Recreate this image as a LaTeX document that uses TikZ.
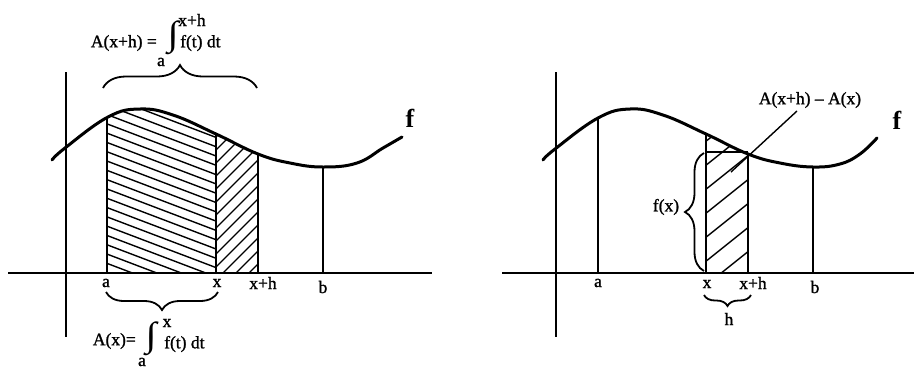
\documentclass[tikz,border=0pt]{standalone}
\usepackage{fontspec}
\usepackage{graphicx}
\setmainfont{Liberation Serif}
\newfontfamily\lblfont[FakeBold=1.2]{Liberation Serif}
\usetikzlibrary{decorations.pathreplacing}
\begin{document}
\begin{tikzpicture}[x=1pt,y=-1pt,
  curve/.style={line width=3pt, line cap=round},
  axisline/.style={line width=2.1pt},
  vline/.style={line width=2.6pt},
  hatch/.style={line width=1.4pt},
  bracestyle/.style={decorate, decoration={brace, amplitude=#1}, line width=1.8pt},
  lbl/.style={font=\lblfont\fontsize{17.5}{20}\selectfont, inner sep=0pt},
  intsign/.style={inner sep=0pt},
  bigf/.style={font=\fontsize{26}{30}\selectfont\bfseries, inner sep=0pt}]
\useasboundingbox (0,0) rectangle (914,368);

% ================= LEFT PANEL =================
\begin{scope}
  \clip (106,273) rectangle (216,90);
  \clip (52,280) -- plot[smooth,tension=0.7] coordinates {(52,160) (65,148) (108,117) (140,109) (173,115) (216,134) (258,154) (290,163) (323,167) (357,163) (383,148) (402,137)} -- (402,280) -- cycle;
  \foreach \i in {0,...,20} \draw[hatch] (100,84+9.3*\i) -- ++(125,47.5);
\end{scope}
\begin{scope}
  \clip (216,273) rectangle (258,90);
  \clip (52,280) -- plot[smooth,tension=0.7] coordinates {(52,160) (65,148) (108,117) (140,109) (173,115) (216,134) (258,154) (290,163) (323,167) (357,163) (383,148) (402,137)} -- (402,280) -- cycle;
  \foreach \i in {0,...,15} \draw[hatch] (210,130+13*\i) -- ++(55,-55);
\end{scope}

\coordinate (LyT) at (66,72);  \coordinate (LyB) at (66,337);
\coordinate (LxL) at (8,273);  \coordinate (LxR) at (432,273);
\draw[axisline] (LyT) -- (LyB);
\draw[axisline] (LxL) -- (LxR);

\coordinate (LaT) at (107,117); \coordinate (LaB) at (107,273);
\coordinate (LxT) at (216,134); \coordinate (LxB) at (216,273);
\coordinate (LhT) at (258,154); \coordinate (LhB) at (258,273);
\coordinate (LbT) at (323,167); \coordinate (LbB) at (323,273);
\draw[vline] (LaT) -- (LaB);
\draw[vline] (LxT) -- (LxB);
\draw[vline] (LhT) -- (LhB);
\draw[vline] (LbT) -- (LbB);

\draw[curve] plot[smooth,tension=0.7] coordinates {(52,160) (65,148) (108,117) (140,109) (173,115) (216,134) (258,154) (290,163) (323,167) (357,163) (383,148) (402,137)};

\node[bigf] (Lf) at (410,118) {f};

\node[lbl] (La) at (106,283) {a};
\node[lbl] (Lx) at (217,283) {x};
\node[lbl] (Lxh) at (263,283) {x+h};
\node[lbl] (Lb) at (323,287) {b};

% bottom brace and label
\coordinate (LbrR) at (218,292); \coordinate (LbrL) at (106,292);
\draw[bracestyle=18] (LbrR) -- (LbrL);
\node[lbl, anchor=east] (LAx) at (136,341) {A(x)=};
\node[intsign] (Lint1) at (151,339) {\resizebox*{11pt}{34pt}{\bfseries ∫}};
\node[lbl] (Lup1) at (167,323) {x};
\node[lbl] (Llo1) at (142,362) {a};
\node[lbl, anchor=west] (Lft1) at (164,344) {f(t) dt};

% top brace and label
\coordinate (LtbL) at (103,88); \coordinate (LtbR) at (257,88);
\draw[bracestyle=23] (LtbL) -- (LtbR);
\node[lbl, anchor=east] (LAxh) at (157,43) {A(x+h) =};
\node[intsign] (Lint2) at (173,38) {\resizebox*{11pt}{34pt}{\bfseries ∫}};
\node[lbl] (Lup2) at (192,20) {x+h};
\node[lbl] (Llo2) at (161,62) {a};
\node[lbl, anchor=west] (Lft2) at (180,43) {f(t) dt};

% ================= RIGHT PANEL =================
\begin{scope}
  \clip (706,273) rectangle (748,90);
  \clip (543,280) -- plot[smooth,tension=0.7] coordinates {(543,160) (555,149) (598,118) (630,109) (663,115) (706,134) (748,154) (780,163) (813,167) (840,164) (860,154) (877,138)} -- (877,280) -- cycle;
  \foreach \i in {0,...,8} \draw[hatch] (700,122+24*\i) -- ++(60,-48);
\end{scope}

\coordinate (RyT) at (556,72);  \coordinate (RyB) at (556,337);
\coordinate (RxL) at (502,273); \coordinate (RxR) at (914,273);
\draw[axisline] (RyT) -- (RyB);
\draw[axisline] (RxL) -- (RxR);

\coordinate (RaT) at (598,118); \coordinate (RaB) at (598,273);
\coordinate (RxT) at (706,134); \coordinate (RxB) at (706,273);
\coordinate (RhT) at (748,154); \coordinate (RhB) at (748,273);
\coordinate (RbT) at (813,167); \coordinate (RbB) at (813,273);
\draw[vline] (RaT) -- (RaB);
\draw[vline] (RxT) -- (RxB);
\draw[vline] (RhT) -- (RhB);
\draw[vline] (RbT) -- (RbB);
\coordinate (RhlL) at (706,152); \coordinate (RhlR) at (748,152);
\draw[axisline] (RhlL) -- (RhlR);

\draw[curve] plot[smooth,tension=0.7] coordinates {(543,160) (555,149) (598,118) (630,109) (663,115) (706,134) (748,154) (780,163) (813,167) (840,164) (860,154) (877,138)};

\node[bigf] (Rf) at (897,120) {f};

\node[lbl] (Ra) at (598,283) {a};
\node[lbl] (Rx) at (707,284) {x};
\node[lbl] (Rxh) at (753,283) {x+h};
\node[lbl] (Rb) at (815,287) {b};

\coordinate (RbrR) at (751,295); \coordinate (RbrL) at (704,295);
\draw[bracestyle=11] (RbrR) -- (RbrL);
\node[lbl] (Rh) at (729,319) {h};

\coordinate (RfbB) at (704,271); \coordinate (RfbT) at (704,153);
\draw[bracestyle=19] (RfbB) -- (RfbT);
\node[lbl] (Rfx) at (666,207) {f(x)};

\node[lbl] (Rdiff) at (810,100) {A(x+h) – A(x)};
\coordinate (RldS) at (797,111); \coordinate (RldE) at (731,172);
\draw[line width=1.4pt] (RldS) -- (RldE);
\end{tikzpicture}
\end{document}
